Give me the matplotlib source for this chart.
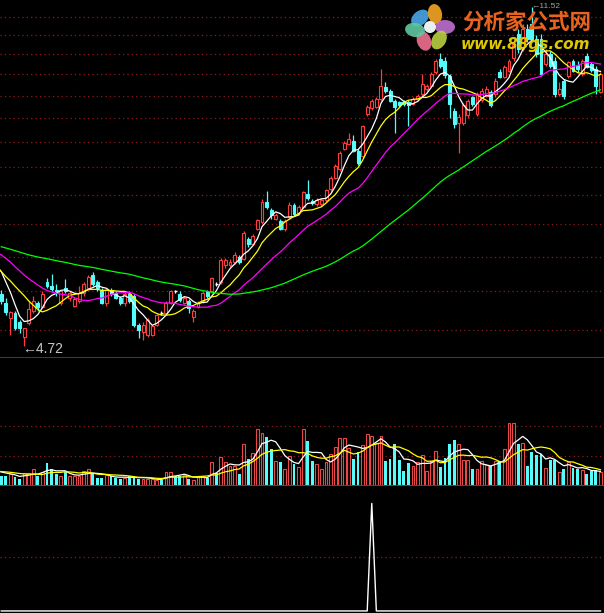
import numpy as np
import pandas as pd
import matplotlib
matplotlib.use("Agg")
import matplotlib.pyplot as plt
from matplotlib.patches import Rectangle, Ellipse, Circle

# daily candles on screen, oldest first
opens = [5.41, 5.28, 5.08, 5.15, 5.03, 4.83, 5.01, 5.18, 5.29, 5.23,
         5.59, 5.52, 5.47, 5.29, 5.50, 5.36, 5.25, 5.31, 5.42, 5.50,
         5.69, 5.59, 5.47, 5.29, 5.47, 5.42, 5.36, 5.28, 5.41, 5.38,
         4.99, 4.90, 4.86, 4.86, 4.99, 5.15, 5.15, 5.29, 5.45, 5.41,
         5.29, 5.31, 5.10, 5.23, 5.31, 5.44, 5.45, 5.55, 5.59, 5.84,
         5.84, 5.88, 5.97, 5.94, 6.26, 6.18, 6.43, 6.54, 6.89, 6.75,
         6.60, 6.56, 6.43, 6.62, 6.84, 6.70, 6.80, 7.05, 6.91, 6.85,
         6.86, 6.93, 7.13, 7.35, 7.52, 7.93, 8.03, 8.10, 7.88, 7.78,
         8.68, 8.82, 8.86, 9.05, 9.34, 9.24, 9.00, 8.96, 8.98, 8.98,
         8.93, 9.05, 9.17, 9.29, 9.36, 9.71, 10.04, 10.00, 9.60, 8.75,
         8.48, 8.48, 8.66, 9.08, 8.70, 9.02, 9.12, 9.20, 9.17, 9.71,
         9.59, 9.73, 10.07, 10.72, 10.31, 10.86, 11.00, 10.58, 10.60, 9.91,
         10.17, 10.00, 9.17, 9.47, 9.61, 9.98, 9.90, 9.66, 10.12, 9.91,
         9.79, 9.22]
highs = [5.47, 5.36, 5.18, 5.18, 5.05, 4.95, 5.31, 5.38, 5.31, 5.45,
         5.65, 5.70, 5.56, 5.47, 5.63, 5.45, 5.37, 5.52, 5.59, 5.69,
         5.74, 5.62, 5.50, 5.50, 5.50, 5.45, 5.38, 5.45, 5.45, 5.41,
         5.01, 5.03, 5.08, 4.99, 5.14, 5.18, 5.31, 5.47, 5.47, 5.45,
         5.38, 5.34, 5.20, 5.31, 5.45, 5.47, 5.66, 5.59, 5.95, 5.95,
         5.93, 6.05, 6.00, 6.38, 6.29, 6.33, 6.60, 6.95, 7.09, 6.78,
         6.70, 6.60, 6.60, 6.89, 6.87, 6.84, 7.10, 7.30, 6.95, 6.96,
         6.96, 7.14, 7.38, 7.62, 7.88, 8.09, 8.26, 8.22, 7.92, 8.44,
         8.90, 9.05, 9.10, 9.79, 9.46, 9.29, 9.05, 9.00, 9.02, 9.02,
         9.08, 9.15, 9.66, 9.41, 9.70, 10.05, 10.20, 10.10, 9.66, 8.82,
         8.70, 8.95, 9.05, 9.12, 9.20, 9.30, 9.35, 9.25, 9.55, 9.79,
         9.90, 10.05, 10.55, 10.86, 11.00, 11.00, 11.52, 10.70, 10.72, 10.30,
         10.25, 10.10, 9.45, 9.54, 10.00, 10.05, 9.98, 10.05, 10.20, 9.96,
         9.86, 9.70]
lows = [5.27, 5.12, 4.86, 4.92, 4.89, 4.72, 4.99, 5.15, 5.18, 5.21,
        5.50, 5.45, 5.39, 5.26, 5.42, 5.31, 5.23, 5.29, 5.39, 5.47,
        5.52, 5.46, 5.27, 5.25, 5.38, 5.34, 5.26, 5.25, 5.29, 4.96,
        4.82, 4.79, 4.83, 4.84, 4.97, 5.12, 5.12, 5.27, 5.42, 5.30,
        5.27, 5.15, 5.03, 5.21, 5.29, 5.36, 5.42, 5.52, 5.56, 5.80,
        5.81, 5.86, 5.86, 5.92, 6.13, 6.15, 6.40, 6.50, 6.77, 6.60,
        6.58, 6.40, 6.38, 6.60, 6.65, 6.66, 6.77, 6.93, 6.84, 6.82,
        6.83, 6.90, 7.10, 7.33, 7.49, 7.90, 8.00, 7.86, 7.60, 7.74,
        8.64, 8.78, 8.82, 9.00, 9.19, 8.96, 8.26, 8.86, 8.88, 8.42,
        8.90, 9.00, 9.12, 9.24, 9.33, 9.66, 9.80, 9.55, 8.59, 8.37,
        7.84, 8.45, 8.60, 8.88, 8.65, 8.98, 9.08, 8.85, 9.10, 9.55,
        9.55, 9.70, 10.00, 10.20, 10.25, 10.50, 10.50, 10.10, 9.60, 9.85,
        9.80, 9.10, 9.12, 9.05, 9.55, 9.70, 9.70, 9.60, 9.80, 9.70,
        9.15, 9.18]
closes = [5.31, 5.16, 5.16, 4.95, 4.95, 4.95, 5.20, 5.31, 5.23, 5.41,
          5.52, 5.49, 5.45, 5.45, 5.45, 5.42, 5.34, 5.42, 5.55, 5.66,
          5.55, 5.50, 5.29, 5.47, 5.41, 5.36, 5.29, 5.41, 5.31, 4.99,
          4.92, 4.99, 5.05, 4.97, 5.12, 5.15, 5.29, 5.45, 5.45, 5.33,
          5.35, 5.22, 5.18, 5.29, 5.42, 5.38, 5.64, 5.55, 5.92, 5.92,
          5.89, 6.00, 5.89, 6.35, 6.18, 6.30, 6.58, 6.89, 6.80, 6.66,
          6.66, 6.43, 6.56, 6.84, 6.68, 6.80, 7.07, 6.96, 6.87, 6.93,
          6.93, 7.11, 7.35, 7.58, 7.84, 8.05, 8.14, 7.89, 7.64, 8.41,
          8.86, 9.00, 9.05, 9.36, 9.24, 9.00, 8.86, 8.90, 8.93, 8.91,
          9.05, 9.12, 9.41, 9.36, 9.66, 9.98, 9.86, 9.62, 8.93, 8.46,
          8.62, 8.90, 9.00, 8.93, 9.17, 9.24, 9.29, 8.90, 9.49, 9.59,
          9.84, 10.00, 10.44, 10.31, 10.86, 10.58, 10.58, 10.17, 9.66, 10.17,
          9.86, 9.17, 9.27, 9.12, 9.96, 9.73, 9.79, 9.98, 9.84, 9.77,
          9.36, 9.66]

# closes of the days before the window (feed the moving averages only)
pre_closes = [6.35, 6.42, 6.30, 6.25, 6.38, 6.45, 6.33, 6.28, 6.20, 6.31,
              6.40, 6.36, 6.27, 6.22, 6.30, 6.34, 6.26, 6.18, 6.24, 6.29,
              6.33, 6.25, 6.19, 6.26, 6.12, 6.05, 5.98, 6.02, 6.10, 6.06,
              5.96, 5.92, 6.00, 6.08, 6.04, 5.99, 6.03, 6.10, 6.07, 6.05,
              6.32, 6.28, 6.35, 6.20, 6.25, 6.30, 6.22, 6.18, 6.28, 6.22,
              5.92, 5.80, 5.70, 5.65, 5.62, 5.95, 5.90, 5.82, 5.73]

volumes = [100, 100, 120, 90, 70, 130, 130, 170, 100, 140,
           230, 170, 120, 100, 140, 100, 100, 100, 150, 170,
           130, 80, 80, 110, 100, 80, 70, 80, 100, 100,
           70, 70, 70, 70, 60, 60, 140, 140, 100, 100,
           110, 70, 60, 100, 100, 80, 240, 130, 290, 240,
           200, 200, 120, 420, 270, 330, 570, 530, 490, 370,
           250, 240, 170, 300, 220, 190, 570, 450, 250, 220,
           170, 240, 320, 390, 480, 480, 380, 270, 340, 410,
           520, 500, 430, 500, 250, 270, 420, 260, 150, 230,
           200, 240, 310, 150, 250, 350, 190, 280, 420, 460,
           420, 260, 260, 170, 170, 250, 210, 200, 250, 250,
           370, 630, 630, 420, 430, 200, 340, 310, 320, 180,
           260, 260, 140, 170, 240, 180, 170, 160, 120, 150,
           160, 140]
pre_volumes = [140, 160, 150, 130, 170, 150, 160, 140, 150]

# signal line of the lower panel
signal = [0.0] * 81 + [1.0] + [0.0] * 50

ma_periods = [5, 10, 20, 60]
ma_colors = ['#ffffff', '#ffff00', '#ff00ff', '#00ff00']
vol_periods = [5, 10]
vol_colors = ['#ffffff', '#ffff00']
grid_prices = [4.92, 5.45, 5.97, 6.50, 7.02, 7.55, 8.07, 8.60, 9.12, 9.65, 10.17, 10.70, 11.22]
vol_grid = [300, 600]

UP = '#ff3c3c'
DOWN = '#54fcfc'
GRID = '#8c1c1c'
BORDER = '#b41e1e'

n = len(closes)
x = np.arange(n)
all_close = pd.Series(pre_closes + closes, index=np.arange(-len(pre_closes), n))
all_vol = pd.Series(pre_volumes + volumes, index=np.arange(-len(pre_volumes), n))

fig = plt.figure(figsize=(6.04, 6.13), dpi=100, facecolor='black')
ax_k = fig.add_axes([0, 255 / 613, 1, 358 / 613])
ax_v = fig.add_axes([0, 127 / 613, 1, 128 / 613])
ax_s = fig.add_axes([0, 0, 1, 127 / 613])

for a in (ax_k, ax_v, ax_s):
    a.set_facecolor('black')
    a.set_xlim(-0.28, 131.77)
    for s in a.spines.values():
        s.set_visible(False)

# ---- price panel
ax_k.set_yscale('log')
ax_k.set_ylim(4.573, 11.732)
for p in grid_prices:
    ax_k.axhline(p, color=GRID, lw=0.9, ls=(0, (1, 2.5)), zorder=0)

for i in range(n):
    o, h, l, c = opens[i], highs[i], lows[i], closes[i]
    if c > o:
        col, face = UP, 'black'
    elif c < o:
        col, face = DOWN, DOWN
    else:
        col, face = 'white', 'white'
    ax_k.vlines(i, l, h, color=col, lw=0.9, zorder=2)
    if c == o:
        ax_k.hlines(o, i - 0.32, i + 0.32, color=col, lw=1.0, zorder=3)
    else:
        ax_k.add_patch(Rectangle((i - 0.32, min(o, c)), 0.64, abs(c - o),
                                 facecolor=face, edgecolor=col, lw=0.8, zorder=3))

for per, col in zip(ma_periods, ma_colors):
    ma = all_close.rolling(per).mean()
    ax_k.plot(ma.index, ma.values, color=col, lw=0.9, zorder=4)

ax_k.spines['bottom'].set_visible(True)
ax_k.spines['bottom'].set_color(BORDER)
ax_k.spines['bottom'].set_linewidth(1.2)

i_low = int(np.argmin(lows))
ax_k.annotate(f'\u2190{lows[i_low]:.2f}', xy=(i_low, lows[i_low]), xytext=(-2, -3),
              textcoords='offset pixels', ha='left', va='center', color='#c8c8c8',
              fontsize=10, family=['Liberation Sans', 'DejaVu Sans'], zorder=5)
i_high = int(np.argmax(highs))
ax_k.annotate(f'\u2190{highs[i_high]:.2f}', xy=(i_high, highs[i_high]), xytext=(-1, 0),
              textcoords='offset pixels', ha='left', va='center', color='#a0a0a0',
              fontsize=6, family=['Liberation Sans', 'DejaVu Sans'], zorder=5)

# ---- volume panel
ax_v.set_ylim(0, 1280)
for g in vol_grid:
    ax_v.axhline(g, color=GRID, lw=0.9, ls=(0, (1, 2.5)), zorder=0)
up = np.array(closes) > np.array(opens)
ax_v.bar(x[up], np.array(volumes)[up], width=0.62, facecolor='black',
         edgecolor='#e84848', lw=0.8, zorder=2)
ax_v.bar(x[~up], np.array(volumes)[~up], width=0.62, color=DOWN, lw=0, zorder=2)
for per, col in zip(vol_periods, vol_colors):
    ma = all_vol.rolling(per).mean()
    ax_v.plot(ma.index, ma.values, color=col, lw=0.9, zorder=3)
ax_v.spines['bottom'].set_visible(True)
ax_v.spines['bottom'].set_color(BORDER)
ax_v.spines['bottom'].set_linewidth(1.5)

# ---- signal panel
ax_s.set_ylim(-0.019, 1.162)
ax_s.axhline(0.5, color=GRID, lw=0.9, ls=(0, (1, 2.5)), zorder=0)
ax_s.plot(x, signal, color='white', lw=1.0, zorder=2)

for a in (ax_k, ax_v, ax_s):
    a.xaxis.set_visible(False)
    a.yaxis.set_visible(False)

# ---- watermark logo
ax_o = fig.add_axes([0, 0, 1, 1])
ax_o.set_xlim(0, 604)
ax_o.set_ylim(613, 0)
ax_o.axis('off')
petals = [(-10, -9, 40, '#4aa8e8'), (5, -13, 100, '#f5a623'), (15, 0, 0, '#c070d0'),
          (9, 13, 60, '#b8d040'), (-6, 14, 110, '#f07090'), (-15, 3, 170, '#60c8a0')]
cx, cy = 430, 27
for dx, dy, ang, col in petals:
    ax_o.add_patch(Ellipse((cx + dx, cy + dy), 20, 14, angle=-ang, facecolor=col,
                           edgecolor='none', alpha=0.9))
ax_o.add_patch(Circle((cx, cy), 6, facecolor='#e8f0f0', edgecolor='none'))
ax_o.text(462, 22, '分析家公式网', color='#e8641e', fontsize=15.5, fontweight='bold',
          family=['Noto Sans CJK SC', 'DejaVu Sans'], ha='left', va='center')
ax_o.text(461, 45, 'www.88gs.com', color='#e0c800', fontsize=11, fontweight='bold',
          style='italic', family='DejaVu Sans', ha='left', va='center')

fig.savefig('out.png', dpi=100, facecolor='black')
